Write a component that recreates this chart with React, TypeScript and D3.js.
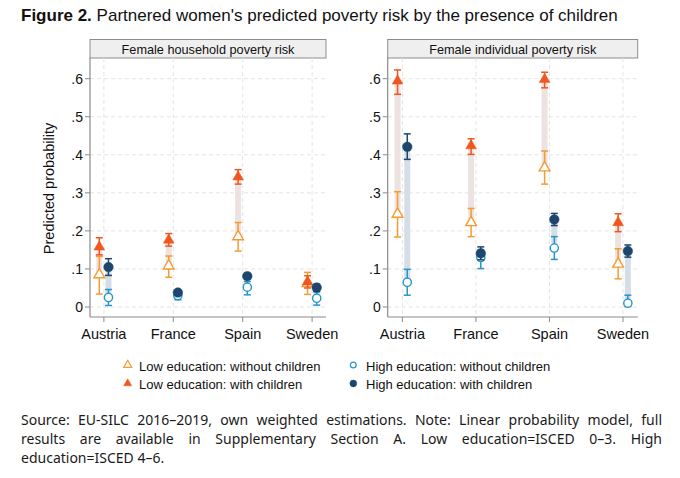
import { useEffect, useRef } from "react";
import * as d3 from "d3";

const countries = ["Austria", "France", "Spain", "Sweden"];
const yTickValues = [0, 0.1, 0.2, 0.3, 0.4, 0.5, 0.6];
const yTickLabels = ["0", ".1", ".2", ".3", ".4", ".5", ".6"];
const panelTitles = ["Female household poverty risk", "Female individual poverty risk"];
const yAxisTitle = "Predicted probability";

// household poverty risk
const hhLowNo = [0.085, 0.108, 0.185, 0.062];
const hhLowNoLo = [0.034, 0.078, 0.147, 0.033];
const hhLowNoHi = [0.133, 0.134, 0.222, 0.091];
const hhLowKid = [0.158, 0.176, 0.342, 0.066];
const hhLowKidLo = [0.137, 0.16, 0.323, 0.05];
const hhLowKidHi = [0.182, 0.193, 0.361, 0.082];
const hhHighNo = [0.025, 0.03, 0.052, 0.023];
const hhHighNoLo = [0.004, 0.019, 0.032, 0.005];
const hhHighNoHi = [0.046, 0.04, 0.067, 0.04];
const hhHighKid = [0.105, 0.038, 0.081, 0.051];
const hhHighKidLo = [0.083, 0.032, 0.073, 0.041];
const hhHighKidHi = [0.127, 0.044, 0.088, 0.06];

// individual poverty risk
const indLowNo = [0.244, 0.222, 0.366, 0.113];
const indLowNoLo = [0.184, 0.185, 0.323, 0.074];
const indLowNoHi = [0.303, 0.259, 0.41, 0.153];
const indLowKid = [0.594, 0.424, 0.598, 0.222];
const indLowKidLo = [0.559, 0.401, 0.576, 0.198];
const indLowKidHi = [0.623, 0.442, 0.617, 0.245];
const indHighNo = [0.065, 0.13, 0.155, 0.01];
const indHighNoLo = [0.031, 0.101, 0.125, 0.001];
const indHighNoHi = [0.099, 0.15, 0.185, 0.031];
const indHighKid = [0.421, 0.141, 0.23, 0.147];
const indHighKidLo = [0.388, 0.124, 0.214, 0.131];
const indHighKidHi = [0.455, 0.158, 0.246, 0.163];

const legendLabels = [
  "Low education: without children",
  "Low education: with children",
  "High education: without children",
  "High education: with children",
];

const noteLines = [
  "Source: EU-SILC 2016\u20132019, own weighted estimations. Note: Linear probability model, full",
  "results are available in Supplementary Section A. Low education=ISCED 0\u20133. High",
  "education=ISCED 4\u20136.",
];

const C = {
  lowNo: "#f59b32",
  lowKid: "#f1561e",
  highNo: "#2596cc",
  highKid: "#1d466f",
  lowBand: "#ece2e1",
  highBand: "#d5dde7",
  axis: "#8a8a8a",
  grid: "#e4e4e4",
};

const FONT = "'Liberation Sans', Arial, Helvetica, sans-serif";

export default function App() {
  const svgRef = useRef<SVGSVGElement>(null);

  useEffect(() => {
    document.body.style.margin = "0";
    if (!svgRef.current) return;
    const svg = d3.select(svgRef.current);
    svg.selectAll("*").remove();

    // title
    const title = svg
      .append("text")
      .attr("x", 21)
      .attr("y", 21)
      .attr("font-family", FONT)
      .attr("font-size", 17)
      .attr("fill", "#111");
    title.append("tspan").attr("font-weight", "bold").text("Figure 2.");
    title.append("tspan").text(" Partnered women's predicted poverty risk by the presence of children");

    const y = d3.scaleLinear().domain([0, 0.6]).range([307, 78.7]);
    const plotTop = 58;
    const plotBottom = 317;

    // y axis title
    svg
      .append("text")
      .attr("transform", `translate(54,${(plotTop + plotBottom) / 2 + 1}) rotate(-90)`)
      .attr("text-anchor", "middle")
      .attr("font-family", FONT)
      .attr("font-size", 14.5)
      .attr("fill", "#111")
      .text(yAxisTitle);

    const panels = [
      {
        left: 90,
        right: 326,
        lowNo: [hhLowNo, hhLowNoLo, hhLowNoHi],
        lowKid: [hhLowKid, hhLowKidLo, hhLowKidHi],
        highNo: [hhHighNo, hhHighNoLo, hhHighNoHi],
        highKid: [hhHighKid, hhHighKidLo, hhHighKidHi],
      },
      {
        left: 387.7,
        right: 637.7,
        lowNo: [indLowNo, indLowNoLo, indLowNoHi],
        lowKid: [indLowKid, indLowKidLo, indLowKidHi],
        highNo: [indHighNo, indHighNoLo, indHighNoHi],
        highKid: [indHighKid, indHighKidLo, indHighKidHi],
      },
    ];

    const tri = d3.symbol().type(d3.symbolTriangle).size(50);
    const triSmall = d3.symbol().type(d3.symbolTriangle).size(28);

    panels.forEach((p, pi) => {
      const x = d3.scaleLinear().domain([0.8, 4.2]).range([p.left, p.right]);
      const g = svg.append("g");
      const off = 0.066;

      // header strip
      g.append("rect")
        .attr("x", p.left)
        .attr("y", 39.5)
        .attr("width", p.right - p.left)
        .attr("height", 18.5)
        .attr("fill", "#efefef")
        .attr("stroke", "#8c8c8c")
        .attr("stroke-width", 1);
      g.append("text")
        .attr("x", (p.left + p.right) / 2)
        .attr("y", 53.5)
        .attr("text-anchor", "middle")
        .attr("font-family", FONT)
        .attr("font-size", 12.7)
        .attr("fill", "#111")
        .text(panelTitles[pi]);

      // grid
      g.selectAll(".hg")
        .data(yTickValues)
        .join("line")
        .attr("x1", p.left)
        .attr("x2", p.right)
        .attr("y1", (d) => y(d))
        .attr("y2", (d) => y(d))
        .attr("stroke", C.grid)
        .attr("stroke-dasharray", "4,3");
      g.selectAll(".vg")
        .data(countries)
        .join("line")
        .attr("x1", (_, i) => x(i + 1))
        .attr("x2", (_, i) => x(i + 1))
        .attr("y1", plotTop)
        .attr("y2", plotBottom)
        .attr("stroke", C.grid)
        .attr("stroke-dasharray", "4,3");

      // axes
      g.append("line")
        .attr("x1", p.left)
        .attr("x2", p.left)
        .attr("y1", plotTop)
        .attr("y2", plotBottom)
        .attr("stroke", C.axis)
        .attr("stroke-width", 1.2);
      g.append("line")
        .attr("x1", p.left)
        .attr("x2", p.right)
        .attr("y1", plotBottom)
        .attr("y2", plotBottom)
        .attr("stroke", C.axis)
        .attr("stroke-width", 1.2);

      yTickValues.forEach((v, i) => {
        g.append("line")
          .attr("x1", p.left - 5)
          .attr("x2", p.left)
          .attr("y1", y(v))
          .attr("y2", y(v))
          .attr("stroke", C.axis);
        g.append("text")
          .attr("x", p.left - 7)
          .attr("y", y(v) + 5)
          .attr("text-anchor", "end")
          .attr("font-family", FONT)
          .attr("font-size", 14)
          .attr("fill", "#111")
          .text(yTickLabels[i]);
      });
      countries.forEach((c, i) => {
        g.append("line")
          .attr("x1", x(i + 1))
          .attr("x2", x(i + 1))
          .attr("y1", plotBottom)
          .attr("y2", plotBottom + 5)
          .attr("stroke", C.axis);
        g.append("text")
          .attr("x", x(i + 1))
          .attr("y", 339)
          .attr("text-anchor", "middle")
          .attr("font-family", FONT)
          .attr("font-size", 14.5)
          .attr("fill", "#111")
          .text(c);
      });

      // change bands
      const bands = [
        { a: p.lowNo[0], b: p.lowKid[0], dx: -off, color: C.lowBand },
        { a: p.highNo[0], b: p.highKid[0], dx: off, color: C.highBand },
      ];
      bands.forEach((bd) => {
        g.selectAll(null)
          .data(countries)
          .join("rect")
          .attr("x", (_, i) => x(i + 1 + bd.dx) - 3)
          .attr("width", 6)
          .attr("y", (_, i) => y(Math.max(bd.a[i], bd.b[i])))
          .attr("height", (_, i) => Math.abs(y(bd.a[i]) - y(bd.b[i])))
          .attr("fill", bd.color);
      });

      const series = [
        { vals: p.lowNo, dx: -off, color: C.lowNo, kind: "tri", filled: false },
        { vals: p.lowKid, dx: -off, color: C.lowKid, kind: "tri", filled: true },
        { vals: p.highNo, dx: off, color: C.highNo, kind: "circ", filled: false },
        { vals: p.highKid, dx: off, color: C.highKid, kind: "circ", filled: true },
      ];

      series.forEach((s) => {
        const [est, lo, hi] = s.vals;
        const sg = g.append("g");
        countries.forEach((_, i) => {
          const cx = x(i + 1 + s.dx);
          sg.append("line")
            .attr("x1", cx)
            .attr("x2", cx)
            .attr("y1", y(lo[i]))
            .attr("y2", y(hi[i]))
            .attr("stroke", s.color)
            .attr("stroke-width", 1.5);
          [lo[i], hi[i]].forEach((v) => {
            sg.append("line")
              .attr("x1", cx - 3.5)
              .attr("x2", cx + 3.5)
              .attr("y1", y(v))
              .attr("y2", y(v))
              .attr("stroke", s.color)
              .attr("stroke-width", 1.5);
          });
          if (s.kind === "tri") {
            sg.append("path")
              .attr("d", tri()!)
              .attr("transform", `translate(${cx},${y(est[i])})`)
              .attr("fill", s.filled ? s.color : "white")
              .attr("stroke", s.color)
              .attr("stroke-width", s.filled ? 0.5 : 1.4);
          } else {
            sg.append("circle")
              .attr("cx", cx)
              .attr("cy", y(est[i]))
              .attr("r", s.filled ? 4.8 : 4.1)
              .attr("fill", s.filled ? s.color : "white")
              .attr("stroke", s.color)
              .attr("stroke-width", s.filled ? 0.5 : 1.4);
          }
        });
      });
    });

    // legend
    const legend = svg.append("g").attr("font-family", FONT).attr("font-size", 13).attr("fill", "#111");
    const legendPos = [
      { mx: 127.7, tx: 139, y: 366 },
      { mx: 127.7, tx: 139, y: 384.5 },
      { mx: 353.3, tx: 366, y: 366 },
      { mx: 353.3, tx: 366, y: 384.5 },
    ];
    const legendColors = [C.lowNo, C.lowKid, C.highNo, C.highKid];
    legendLabels.forEach((lab, i) => {
      const pos = legendPos[i];
      if (i < 2) {
        legend
          .append("path")
          .attr("d", triSmall()!)
          .attr("transform", `translate(${pos.mx},${pos.y - 1})`)
          .attr("fill", i === 1 ? legendColors[i] : "white")
          .attr("stroke", legendColors[i])
          .attr("stroke-width", i === 1 ? 0.5 : 1.2);
      } else {
        legend
          .append("circle")
          .attr("cx", pos.mx)
          .attr("cy", pos.y - 1)
          .attr("r", i === 3 ? 3.4 : 2.9)
          .attr("fill", i === 3 ? legendColors[i] : "white")
          .attr("stroke", legendColors[i])
          .attr("stroke-width", i === 3 ? 0.5 : 1.2);
      }
      legend
        .append("text")
        .attr("x", pos.tx)
        .attr("y", pos.y + 4.5)
        .text(lab);
    });

    // note, justified
    const noteLeft = 21;
    const noteRight = 662;
    noteLines.forEach((line, i) => {
      const t = svg
        .append("text")
        .attr("x", noteLeft)
        .attr("y", 425 + i * 19)
        .attr("font-family", "'Noto Sans', 'Open Sans', sans-serif")
        .attr("font-size", 14)
        .attr("fill", "#1a1a1a")
        .attr("xml:space", "preserve")
        .text(line);
      if (i < noteLines.length - 1) {
        const node = t.node() as SVGTextElement;
        const w = node.getComputedTextLength();
        const spaces = (line.match(/ /g) || []).length;
        if (spaces > 0) t.attr("word-spacing", (noteRight - noteLeft - w) / spaces);
      }
    });
  }, []);

  return <svg ref={svgRef} width={680} height={478} style={{ display: "block", background: "white" }} />;
}
